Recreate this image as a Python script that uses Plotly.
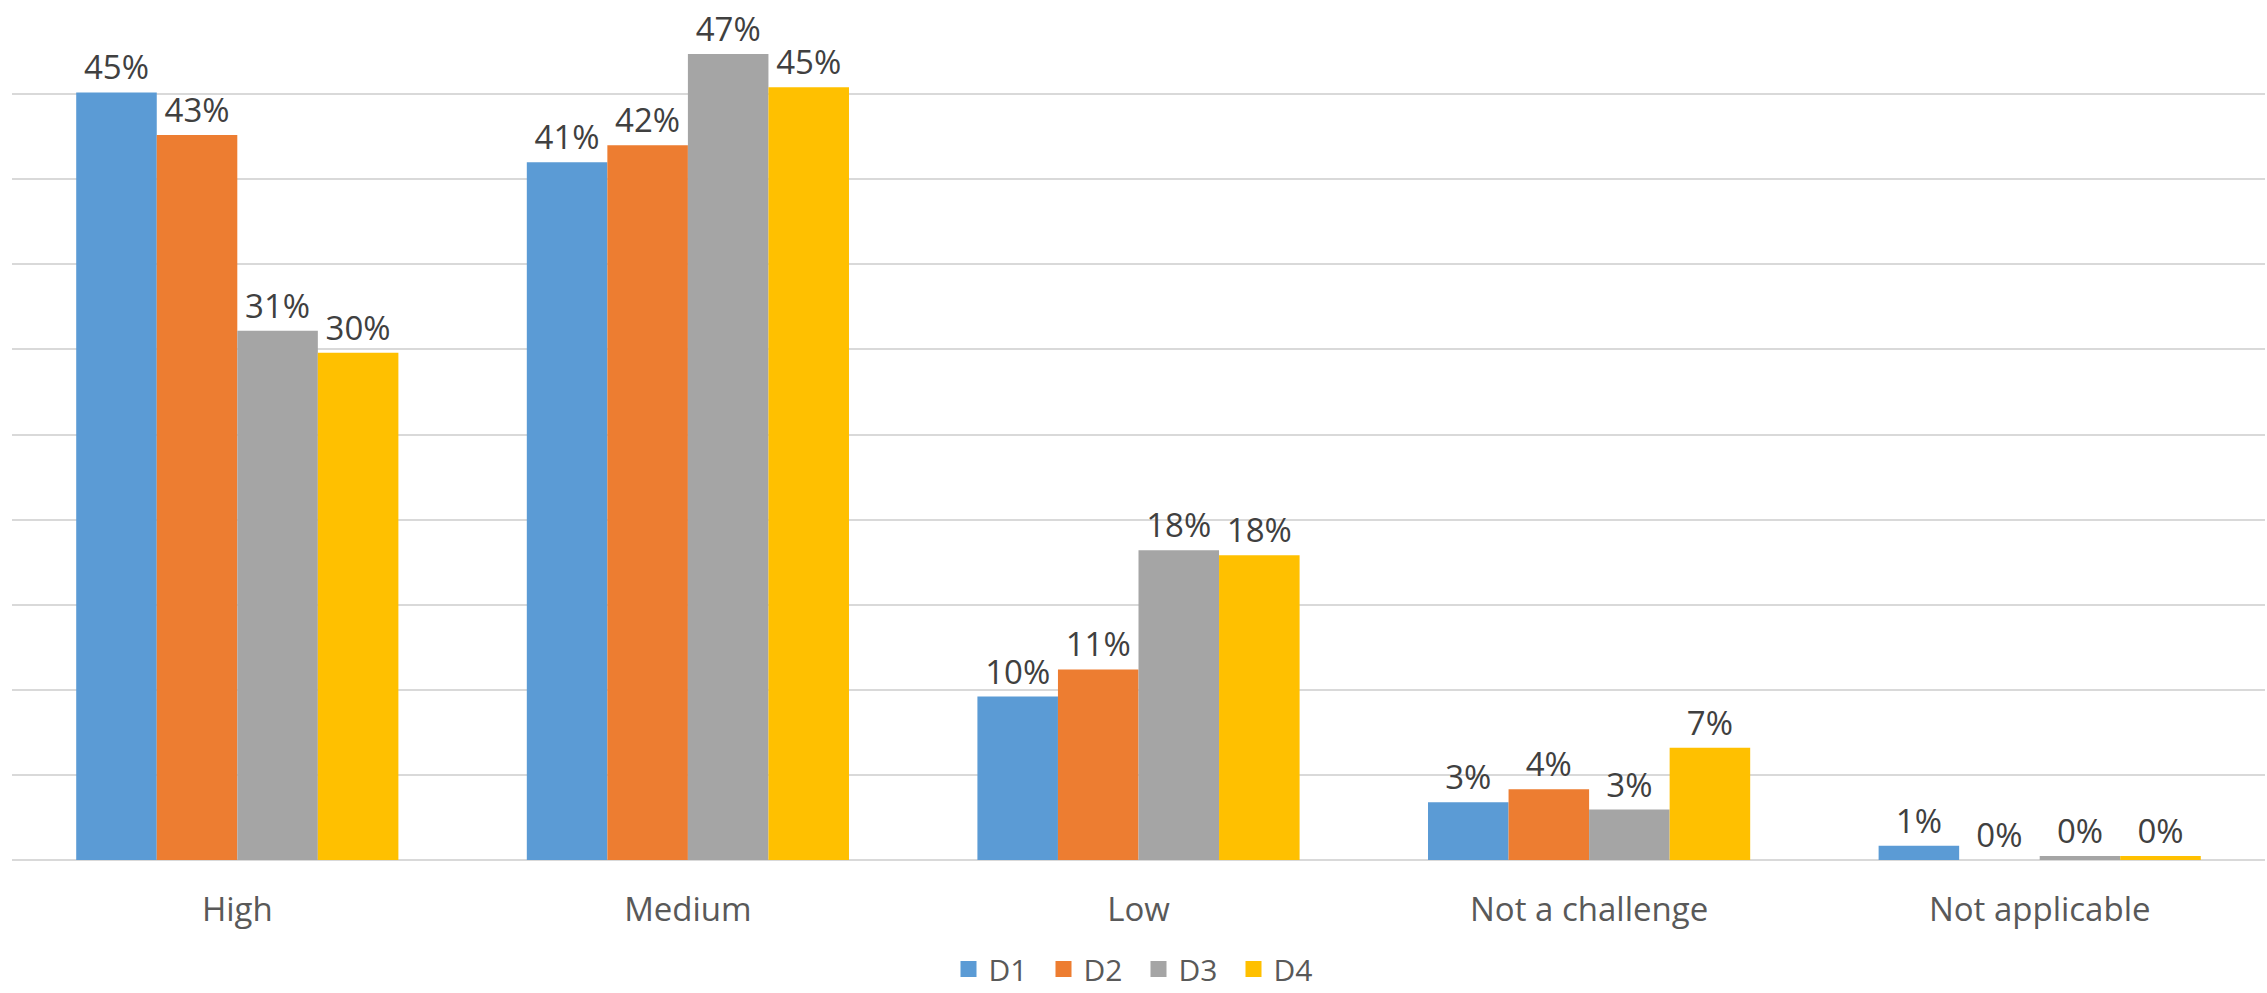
import plotly.graph_objects as go

# Survey responses: share of respondents per challenge level, by group
categories = ["High", "Medium", "Low", "Not a challenge", "Not applicable"]
series_names = ["D1", "D2", "D3", "D4"]
d1 = [0.451, 0.410, 0.096, 0.034, 0.0084]
d2 = [0.426, 0.420, 0.112, 0.0415, 0.0]
d3 = [0.311, 0.4735, 0.182, 0.0296, 0.0024]
d4 = [0.298, 0.454, 0.179, 0.066, 0.0024]
colors = ["#5B9BD5", "#ED7D31", "#A5A5A5", "#FFC000"]

FONT = "Open Sans"

fig = go.Figure()
for name, vals, col in zip(series_names, [d1, d2, d3, d4], colors):
    fig.add_trace(go.Bar(
        name=name,
        x=categories,
        y=vals,
        marker=dict(color=col, line=dict(width=0)),
        texttemplate="%{y:.0%}",
        textposition="outside",
        textfont=dict(family=FONT, size=33, color="#404040"),
        constraintext="none",
        cliponaxis=False,
        showlegend=False,
    ))
    # legend entry with a larger square swatch
    fig.add_trace(go.Scatter(
        name=name,
        x=[None],
        y=[None],
        mode="markers",
        marker=dict(symbol="square", size=21, color=col),
        showlegend=True,
    ))

fig.update_layout(
    width=2267,
    height=993,
    margin=dict(l=12, r=2, t=9, b=133, autoexpand=False),
    paper_bgcolor="white",
    plot_bgcolor="white",
    barmode="group",
    bargap=0.285,
    bargroupgap=0,
    showlegend=True,
    legend=dict(
        orientation="h",
        x=0.5, xanchor="center",
        y=-0.128, yanchor="middle",
        font=dict(family=FONT, size=30, color="#595959"),
        itemclick=False,
        itemsizing="trace",
        itemwidth=30,
        entrywidth=50,
    ),
    font=dict(family=FONT),
)

fig.update_xaxes(
    showgrid=False,
    showline=False,
    ticks="",
    tickfont=dict(family=FONT, size=33, color="#595959"),
    ticklabelstandoff=27,
    automargin=False,
)
fig.update_yaxes(
    range=[0, 0.5],
    dtick=0.05,
    showticklabels=False,
    showgrid=True,
    gridcolor="#D9D9D9",
    gridwidth=1.5,
    zeroline=True,
    zerolinecolor="#D9D9D9",
    zerolinewidth=1.5,
    showline=False,
    automargin=False,
)

fig.write_html("out.html")
